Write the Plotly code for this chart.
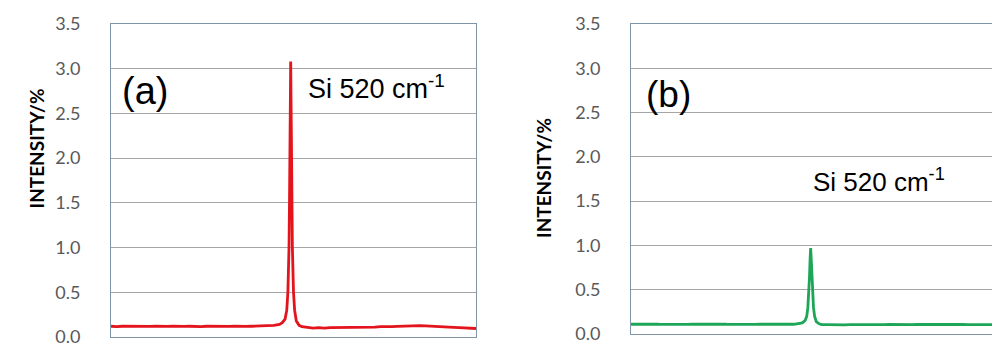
import plotly.graph_objects as go

# Raman shift (cm-1) and intensity (%)
x_a = [200, 210, 220, 230, 240, 250, 260, 270, 280, 290, 300, 310, 320, 330, 340, 350,
       360, 370, 380, 390, 400, 410, 420, 430, 440, 450, 460, 470, 480, 490, 500, 505,
       510, 513, 515, 517, 518, 519, 520, 521, 522, 523, 525, 527, 530, 535, 540, 550,
       560, 570, 580, 590, 600, 610, 620, 630, 640, 650, 660, 670, 680, 690, 700, 710,
       720, 730, 740, 750, 760, 770, 780, 790, 800, 810, 820, 830, 840, 850]
y_a = [0.12, 0.115, 0.12, 0.118, 0.12, 0.115, 0.12, 0.118, 0.12, 0.115, 0.118, 0.12, 0.115, 0.118, 0.12, 0.117,
       0.115, 0.12, 0.118, 0.115, 0.12, 0.118, 0.12, 0.115, 0.118, 0.12, 0.122, 0.12, 0.125, 0.13, 0.14, 0.16,
       0.2, 0.3, 0.5, 1.0, 1.6, 2.4, 3.08, 2.4, 1.6, 1.0, 0.5, 0.3, 0.18, 0.13, 0.115, 0.105,
       0.1, 0.105, 0.1, 0.105, 0.105, 0.11, 0.105, 0.11, 0.108, 0.11, 0.112, 0.11, 0.115, 0.112, 0.115, 0.118,
       0.12, 0.125, 0.13, 0.128, 0.125, 0.12, 0.115, 0.112, 0.11, 0.108, 0.105, 0.1, 0.098, 0.095]

x_b = [200, 210, 220, 230, 240, 250, 260, 270, 280, 290, 300, 310, 320, 330, 340, 350,
       360, 370, 380, 390, 400, 410, 420, 430, 440, 450, 460, 470, 480, 490, 500, 505,
       510, 513, 515, 517, 518, 519, 520, 521, 522, 523, 525, 527, 530, 535, 540, 550,
       560, 570, 580, 590, 600, 610, 620, 630, 640, 650, 660, 670, 680, 690, 700, 710,
       720, 730, 740, 750, 760, 770, 780, 790, 800, 810, 820, 830, 843]
y_b = [0.11, 0.112, 0.108, 0.11, 0.112, 0.11, 0.108, 0.11, 0.112, 0.11, 0.108, 0.11, 0.112, 0.11, 0.108, 0.11,
       0.112, 0.11, 0.108, 0.11, 0.112, 0.11, 0.108, 0.11, 0.112, 0.11, 0.108, 0.11, 0.112, 0.11, 0.115, 0.125,
       0.15, 0.2, 0.3, 0.5, 0.65, 0.85, 0.97, 0.85, 0.65, 0.5, 0.3, 0.2, 0.14, 0.115, 0.105, 0.105,
       0.102, 0.105, 0.103, 0.105, 0.104, 0.106, 0.105, 0.104, 0.106, 0.105, 0.107, 0.105, 0.106, 0.108, 0.106, 0.107,
       0.108, 0.106, 0.107, 0.108, 0.107, 0.106, 0.108, 0.107, 0.106, 0.105, 0.106, 0.105, 0.105]

y_ticks = [0.0, 0.5, 1.0, 1.5, 2.0, 2.5, 3.0, 3.5]
y_tick_text = ["0.0", "0.5", "1.0", "1.5", "2.0", "2.5", "3.0", "3.5"]

W, H = 992, 345
def px(x):
    return x / W
def py(y):
    return 1 - y / H

border = "#7f95a8"
grid = "#a6a6a6"
tickfont = dict(family="Lato", size=18, color="#595959")

fig = go.Figure()
fig.add_trace(go.Scatter(x=x_a, y=y_a, mode="lines", line=dict(color="#e3141c", width=2.8),
                         xaxis="x", yaxis="y", showlegend=False))
fig.add_trace(go.Scatter(x=x_b, y=y_b, mode="lines", line=dict(color="#1da558", width=2.8),
                         xaxis="x2", yaxis="y2", showlegend=False))

common_y = dict(range=[0, 3.5], tickvals=y_ticks, ticktext=y_tick_text, showgrid=True,
                gridcolor=grid, gridwidth=1, zeroline=False, tickfont=tickfont, automargin=False,
                ticklabeloverflow="allow",
                ticks="", ticklabelstandoff=26, showline=True, linecolor=border, linewidth=1)

fig.update_layout(
    width=W, height=H,
    margin=dict(l=0, r=0, t=0, b=0),
    paper_bgcolor="white", plot_bgcolor="white",
    xaxis=dict(domain=[px(111), px(476)], range=[200, 850], showticklabels=False, showgrid=False,
               automargin=False, zeroline=False, showline=True, mirror=True, linecolor=border,
               linewidth=1, ticks=""),
    yaxis=dict(domain=[py(337), py(24)], mirror=True, anchor="x", **common_y),
    xaxis2=dict(domain=[px(631), 1.0], range=[200, 843], showticklabels=False, showgrid=False,
                automargin=False, zeroline=False, showline=True, mirror=True, linecolor=border,
                linewidth=1, ticks="", anchor="y2"),
    yaxis2=dict(domain=[py(334), py(24)], mirror=False, anchor="x2", **common_y),
)

ann = []
ann.append(dict(text="<b>INTENSITY/%</b>", x=px(22), y=py(149), xref="paper", yref="paper",
                showarrow=False, textangle=-90, font=dict(family="Lato", size=19, color="#000000")))
ann.append(dict(text="<b>INTENSITY/%</b>", x=px(543), y=py(178), xref="paper", yref="paper",
                showarrow=False, textangle=-90, font=dict(family="Lato", size=19, color="#000000")))
ann.append(dict(text="(a)", x=px(120), y=py(91), xref="paper", yref="paper", xanchor="left",
                yanchor="middle", showarrow=False,
                font=dict(family="Liberation Sans", size=38, color="#000000")))
ann.append(dict(text="(b)", x=px(644), y=py(94), xref="paper", yref="paper", xanchor="left",
                yanchor="middle", showarrow=False,
                font=dict(family="Liberation Sans", size=37, color="#000000")))
ann.append(dict(text="Si 520 cm<sup>-1</sup>", x=px(306), y=py(87), xref="paper", yref="paper",
                xanchor="left", yanchor="middle", showarrow=False,
                font=dict(family="Liberation Sans", size=27, color="#000000")))
ann.append(dict(text="Si 520 cm<sup>-1</sup>", x=px(811), y=py(180), xref="paper", yref="paper",
                xanchor="left", yanchor="middle", showarrow=False,
                font=dict(family="Liberation Sans", size=26, color="#000000")))
fig.update_layout(annotations=ann)

fig.write_html("out.html", config={"displayModeBar": False},
               post_script="document.body.style.margin='0';document.body.style.overflow='hidden';")
